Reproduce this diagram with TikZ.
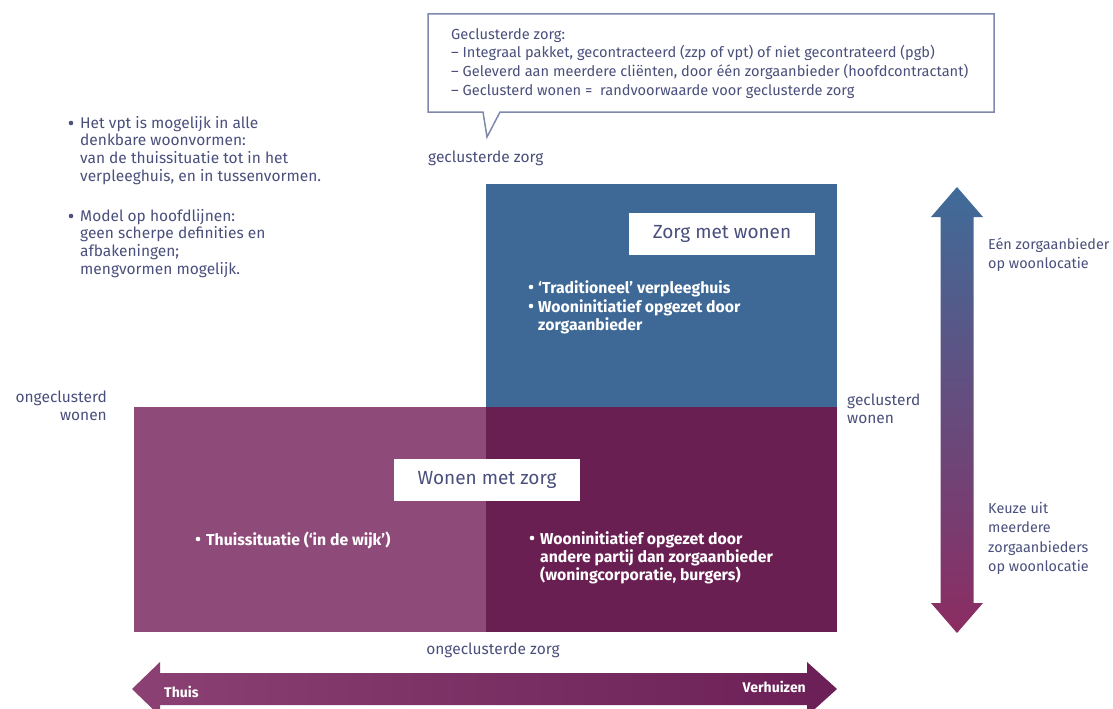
\documentclass[tikz,border=0pt]{standalone}
\usepackage{fontspec}
\setmainfont{Fira Sans}
\definecolor{txt}{HTML}{4A4F7C}
\definecolor{blueq}{HTML}{3E6895}
\definecolor{lpurp}{HTML}{8E4A78}
\definecolor{dpurp}{HTML}{6A1F53}
\definecolor{frame}{HTML}{8088AE}
\definecolor{arrtop}{HTML}{3F6C99}
\definecolor{arrbot}{HTML}{8C2C62}
\definecolor{harrl}{HTML}{8B4173}
\definecolor{harrr}{HTML}{6B1F56}
\begin{document}
\begin{tikzpicture}[x=1pt,y=-1pt,
  lbl/.style={inner sep=0pt, text=txt, font=\fontsize{15.5}{17.7}\selectfont, align=left},
  wbul/.style={inner sep=0pt, text=white, font=\bfseries\fontsize{15.8}{18.5}\selectfont, align=left},
  titlebox/.style={fill=white, minimum width=186pt, minimum height=42pt, inner sep=0pt, text=txt, font=\fontsize{19}{24}\selectfont},
  dot/.style={circle, inner sep=0pt, minimum size=4.6pt}]
\useasboundingbox (0,0) rectangle (1113,709);
\clip (0,0) rectangle (1113,709);

% callout
\draw[frame, line width=1.5pt, fill=white] (428,14) -- (994,14) -- (994,112) -- (500,112) -- (487,137) -- (483,112) -- (428,112) -- cycle;
\node[lbl, anchor=north west, font=\fontsize{14.6}{18.7}\selectfont] (callt) at (451,28)
  {Geclusterde zorg:\\– Integraal pakket, gecontracteerd (zzp of vpt) of niet gecontrateerd (pgb)\\– Geleverd aan meerdere cliënten, door één zorgaanbieder (hoofdcontractant)\\– Geclusterd wonen =\ \ randvoorwaarde voor geclusterde zorg};

% left bullets
\node[dot, fill=txt] (d1) at (71,123) {};
\node[lbl, anchor=north west] (b1) at (80,116) {Het vpt is mogelijk in alle\\denkbare woonvormen:\\van de thuissituatie tot in het\\verpleeghuis, en in tussenvormen.};
\node[dot, fill=txt] (d2) at (71,216) {};
\node[lbl, anchor=north west] (b2) at (80,209) {Model op hoofdlijnen:\\geen scherpe definities en\\afbakeningen;\\mengvormen mogelijk.};

% quadrants
\fill[blueq] (486,184) rectangle (837,407);
\fill[lpurp] (134,407) rectangle (486,632);
\fill[dpurp] (486,407) rectangle (837,632);

\node[titlebox] (zmw) at (722,234) {Zorg met wonen};
\node[titlebox] (wmz) at (487,480) {Wonen met zorg};

\node[dot, fill=white] (d3) at (531,287) {};
\node[wbul, anchor=north west] (t3) at (538,280) {‘Traditioneel’ verpleeghuis};
\node[dot, fill=white] (d4) at (531,306) {};
\node[wbul, anchor=north west] (t4) at (538,299) {Wooninitiatief opgezet door\\zorgaanbieder};

\node[dot, fill=white] (d5) at (198,539) {};
\node[wbul, anchor=north west] (t5) at (206,532) {Thuissituatie (‘in de wijk’)};
\node[dot, fill=white] (d6) at (532,538) {};
\node[wbul, anchor=north west, font=\bfseries\fontsize{15.8}{18}\selectfont] (t6) at (540,531) {Wooninitiatief opgezet door\\andere partij dan zorgaanbieder\\(woningcorporatie, burgers)};

% axis labels
\node[lbl, anchor=base west] (gz) at (428,162) {geclusterde zorg};
\node[lbl, anchor=base] (oz) at (493,654) {ongeclusterde zorg};
\node[lbl, anchor=north east, align=right] (ow) at (107,391) {ongeclusterd\\wonen};
\node[lbl, anchor=north west] (gw) at (847,394) {geclusterd\\wonen};
\node[lbl, anchor=north west, font=\fontsize{14.4}{19}\selectfont] (een) at (988,238) {Eén zorgaanbieder\\op woonlocatie};
\node[lbl, anchor=north west, font=\fontsize{14.4}{19.5}\selectfont] (keuze) at (988,502) {Keuze uit\\meerdere\\zorgaanbieders\\op woonlocatie};

% vertical arrow
\shade[top color=arrtop, bottom color=arrbot] (957,187) -- (983,217) -- (973.5,217) -- (973.5,603) -- (983,603) -- (957,633) -- (931,603) -- (940.5,603) -- (940.5,217) -- (931,217) -- cycle;

% horizontal arrow
\shade[left color=harrl, right color=harrr] (132,689) -- (160,662) -- (160,673) -- (807,673) -- (807,662) -- (837,689) -- (807,716) -- (807,705) -- (160,705) -- (160,716) -- cycle;
\node[wbul, anchor=base west, font=\bfseries\fontsize{14}{17}\selectfont] (thuis) at (164,697) {Thuis};
\node[wbul, anchor=base east, font=\bfseries\fontsize{14}{17}\selectfont] (verh) at (806,692) {Verhuizen};
\end{tikzpicture}
\end{document}
